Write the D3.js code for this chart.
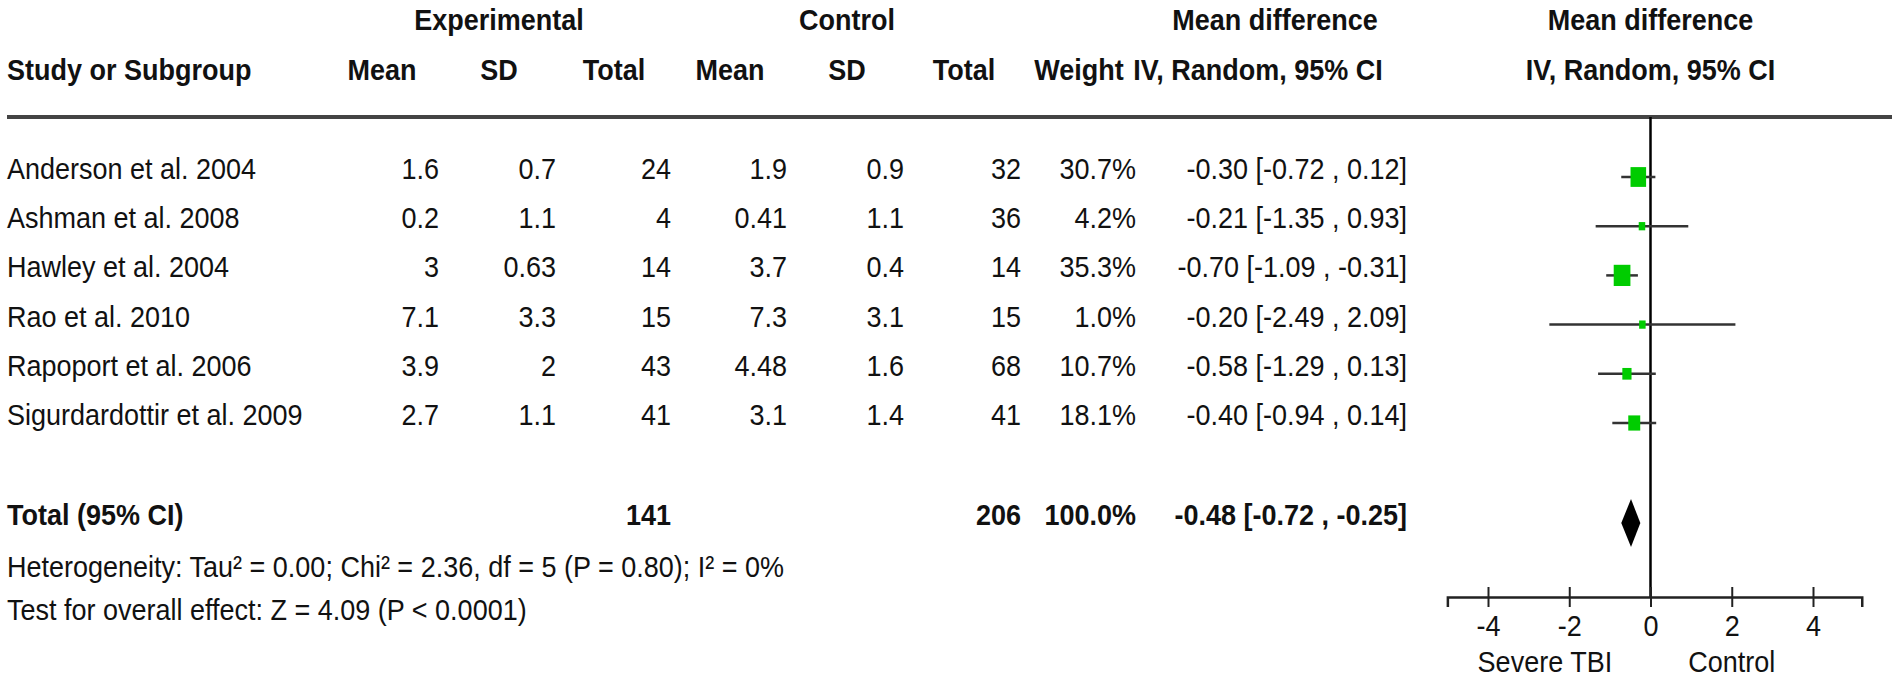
<!DOCTYPE html>
<html>
<head>
<meta charset="utf-8">
<script src="https://cdn.jsdelivr.net/npm/d3@7"></script>
<style>
  html, body { margin: 0; padding: 0; background: #fff; }
  svg text { font-family: "Liberation Sans", Arial, sans-serif; font-size: 27px; fill: #111; }
  svg text.bold { font-weight: bold; }
</style>
</head>
<body>
<div id="chart"></div>
<script>
// study rows
const studies = ["Anderson et al. 2004", "Ashman et al. 2008", "Hawley et al. 2004",
                 "Rao et al. 2010", "Rapoport et al. 2006", "Sigurdardottir et al. 2009"];
const expMean   = [1.6, 0.2, 3, 7.1, 3.9, 2.7];
const expSD     = [0.7, 1.1, 0.63, 3.3, 2, 1.1];
const expTotal  = [24, 4, 14, 15, 43, 41];
const ctrlMean  = [1.9, 0.41, 3.7, 7.3, 4.48, 3.1];
const ctrlSD    = [0.9, 1.1, 0.4, 3.1, 1.6, 1.4];
const ctrlTotal = [32, 36, 14, 15, 68, 41];
const weights   = [30.7, 4.2, 35.3, 1.0, 10.7, 18.1];
const meanDiff  = [-0.30, -0.21, -0.70, -0.20, -0.58, -0.40];
const ciLow     = [-0.72, -1.35, -1.09, -2.49, -1.29, -0.94];
const ciHigh    = [0.12, 0.93, -0.31, 2.09, 0.13, 0.14];

// pooled result
const totalLabel = "Total (95% CI)";
const totalExp = 141;
const totalCtrl = 206;
const totalWeight = 100.0;
const totalMD = -0.48;
const totalLow = -0.72;
const totalHigh = -0.25;
const heterogeneityText = "Heterogeneity: Tau\u00b2 = 0.00; Chi\u00b2 = 2.36, df = 5 (P = 0.80); I\u00b2 = 0%";
const overallText = "Test for overall effect: Z = 4.09 (P < 0.0001)";

// axis
const xTicks = [-4, -2, 0, 2, 4];
const favoursLabels = ["Severe TBI", "Control"];

const width = 1901, height = 681;
const svg = d3.select("#chart").append("svg")
    .attr("width", width).attr("height", height)
    .attr("viewBox", `0 0 ${width} ${height}`);

// plain hyphen minus, like the source table
const fmt2 = v => d3.format(".2f")(v).replace("\u2212", "-");
const fmtW = d3.format(".1f");
const ciText = (m, lo, hi) => `${fmt2(m)} [${fmt2(lo)} , ${fmt2(hi)}]`;
const stretch = 1.1;

// layout
const leftX = 7;
const colRight = [439, 556, 671, 787, 904, 1021, 1136, 1407];
const headOffset = 57;
const rowY = d3.scaleLinear().domain([0, studies.length - 1]).range([179, 425]);
const totalY = 525;

const x = d3.scaleLinear().domain([-4, 4]).range([1488, 1813]);
const boxW = d3.scaleSqrt().domain([0, d3.max(weights)]).range([0, 16.7]);

function txt(str, xPos, yPos, anchor = "start", bold = false) {
    svg.append("text")
        .attr("transform", `translate(${xPos},${yPos}) scale(1,${stretch})`)
        .attr("text-anchor", anchor)
        .attr("class", bold ? "bold" : null)
        .text(str);
}

// headers
txt("Experimental", colRight[1] - headOffset, 30, "middle", true);
txt("Control", colRight[4] - headOffset, 30, "middle", true);
txt("Mean difference", 1275, 30, "middle", true);
txt("Mean difference", x(0), 30, "middle", true);

txt("Study or Subgroup", leftX, 80, "start", true);
["Mean", "SD", "Total", "Mean", "SD", "Total", "Weight"].forEach((h, i) => {
    txt(h, colRight[i] - headOffset, 80, "middle", true);
});
txt("IV, Random, 95% CI", 1258, 80, "middle", true);
txt("IV, Random, 95% CI", x(0), 80, "middle", true);

svg.append("line")
    .attr("x1", leftX).attr("x2", 1892)
    .attr("y1", 117).attr("y2", 117)
    .attr("stroke", "#444").attr("stroke-width", 4);

// study rows
studies.forEach((s, i) => {
    const y = rowY(i);
    txt(s, leftX, y);
    const cells = [expMean[i], expSD[i], expTotal[i], ctrlMean[i], ctrlSD[i], ctrlTotal[i],
                   fmtW(weights[i]) + "%", ciText(meanDiff[i], ciLow[i], ciHigh[i])];
    cells.forEach((c, j) => txt(String(c), colRight[j], y, "end"));
});

// total row
txt(totalLabel, leftX, totalY, "start", true);
txt(String(totalExp), colRight[2], totalY, "end", true);
txt(String(totalCtrl), colRight[5], totalY, "end", true);
txt(fmtW(totalWeight) + "%", colRight[6], totalY, "end", true);
txt(ciText(totalMD, totalLow, totalHigh), colRight[7], totalY, "end", true);

txt(heterogeneityText, leftX, 577);
txt(overallText, leftX, 620);

// forest plot
const axisY = 597;
const plot = svg.append("g");

plot.append("line")
    .attr("x1", x(0)).attr("x2", x(0))
    .attr("y1", 117).attr("y2", axisY)
    .attr("stroke", "#000").attr("stroke-width", 2.5);

const rows = studies.map((s, i) => ({ i, md: meanDiff[i], lo: ciLow[i], hi: ciHigh[i], w: weights[i] }));

plot.selectAll(".ci").data(rows).enter().append("line")
    .attr("class", "ci")
    .attr("x1", d => x(d.lo)).attr("x2", d => x(d.hi))
    .attr("y1", d => rowY(d.i) - 2).attr("y2", d => rowY(d.i) - 2)
    .attr("stroke", "#333").attr("stroke-width", 2.5);

plot.selectAll(".box").data(rows).enter().append("rect")
    .attr("class", "box")
    .each(function (d) {
        const w = Math.max(6.5, boxW(d.w));
        const h = w * 1.27;
        d3.select(this)
            .attr("x", x(d.md) - w / 2).attr("y", rowY(d.i) - 2 - h / 2)
            .attr("width", w).attr("height", h);
    })
    .attr("fill", "#00cc00");

const dy = 24, cy = totalY - 2;
plot.append("path")
    .attr("d", `M${x(totalLow)},${cy}L${x(totalMD)},${cy - dy}L${x(totalHigh)},${cy}L${x(totalMD)},${cy + dy}Z`)
    .attr("fill", "#000");

// x axis
const axisScale = x.copy().domain([-5, 5.2]).range([x(-5), x(5.2)]);
const axisG = svg.append("g")
    .attr("transform", `translate(0,${axisY})`)
    .call(d3.axisBottom(axisScale).tickValues(xTicks).tickFormat(d => String(d))
        .tickSizeOuter(0).tickSize(10));
axisG.attr("font-family", null).attr("font-size", null);
axisG.select(".domain").attr("stroke", "#222").attr("stroke-width", 2.5);
axisG.selectAll(".tick line").attr("y1", -10).attr("y2", 10).attr("stroke", "#222").attr("stroke-width", 2);
axisG.selectAll(".tick text")
    .attr("y", null).attr("dy", null)
    .attr("transform", `translate(0,39) scale(1,${stretch})`)
    .attr("fill", "#111");

txt(favoursLabels[0], x(-2.6), 672, "middle");
txt(favoursLabels[1], x(2), 672, "middle");
</script>
</body>
</html>
